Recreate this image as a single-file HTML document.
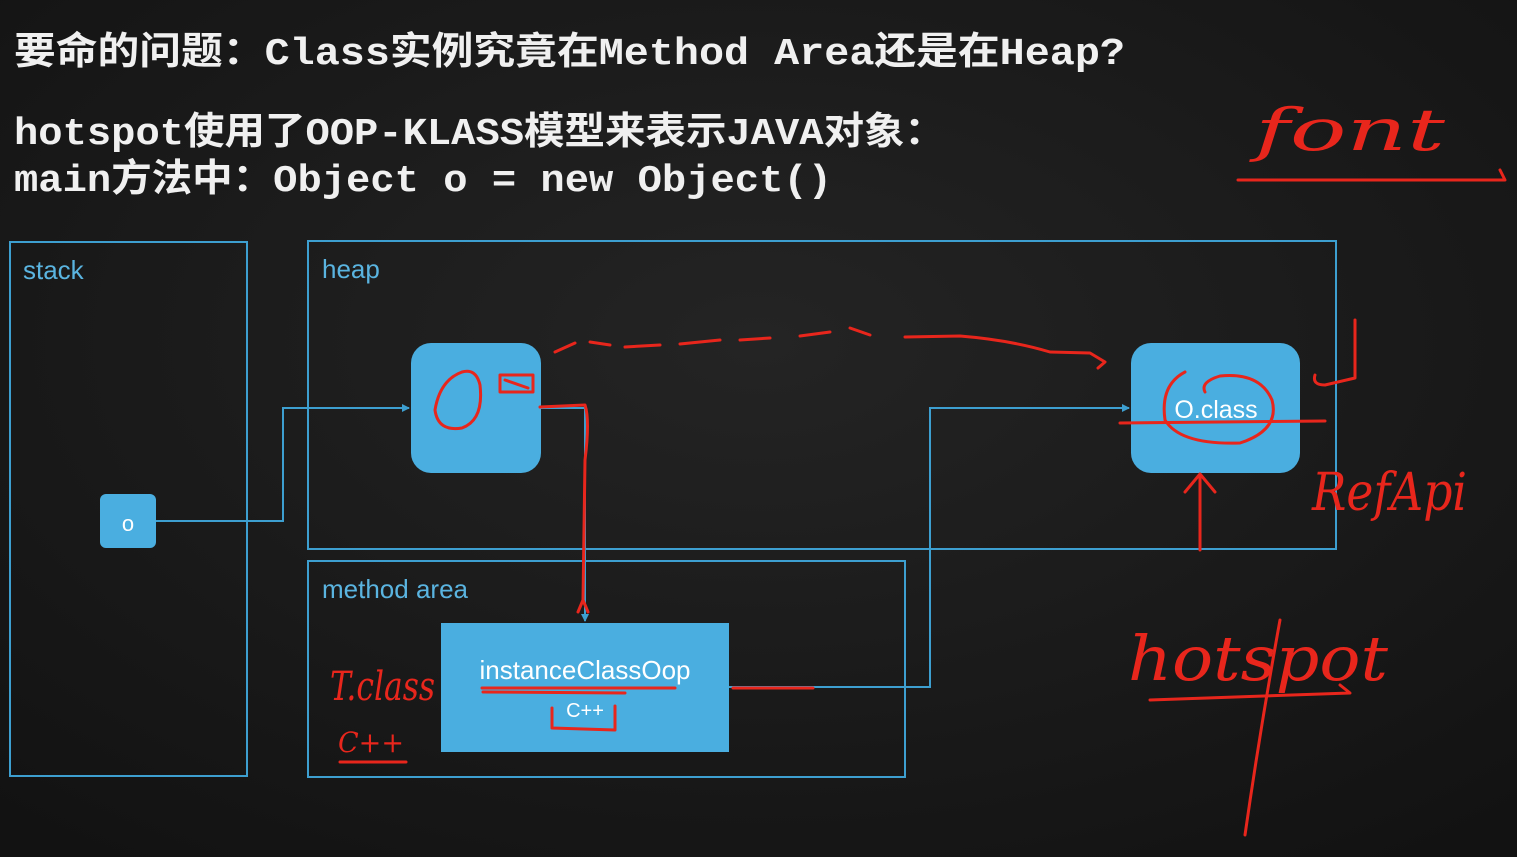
<!DOCTYPE html>
<html><head><meta charset="utf-8"><style>
html,body{margin:0;padding:0;background:#1b1b1b;}
svg{display:block}
</style></head><body>
<svg width="1517" height="857" viewBox="0 0 1517 857" xmlns="http://www.w3.org/2000/svg">
<defs>
<radialGradient id="bg" cx="50%" cy="40%" r="75%"><stop offset="0" stop-color="#242424"/><stop offset="1" stop-color="#121212"/></radialGradient>
<marker id="ar" markerWidth="8" markerHeight="8" refX="7" refY="4" orient="auto" markerUnits="userSpaceOnUse"><path d="M0,0 L8,4 L0,8 z" fill="#3d9fd0"/></marker>
</defs>
<rect width="1517" height="857" fill="url(#bg)"/>
<g font-family="'Liberation Mono','Noto Sans CJK SC',monospace" fill="#f0f0f0" font-size="38" font-weight="bold">
<text x="14" y="64" textLength="1111" lengthAdjust="spacingAndGlyphs">要命的问题：Class实例究竟在Method Area还是在Heap?</text>
<text x="14" y="144" textLength="931" lengthAdjust="spacingAndGlyphs">hotspot使用了OOP-KLASS模型来表示JAVA对象：</text>
<text x="14" y="191" textLength="818" lengthAdjust="spacingAndGlyphs">main方法中：Object o = new Object()</text>
</g>
<g fill="none" stroke="#3d9fd0" stroke-width="2">
<rect x="10" y="242" width="237" height="534"/>
<rect x="308" y="241" width="1028" height="308"/>
<rect x="308" y="561" width="597" height="216"/>
<polyline points="156,521 283,521 283,408 409,408" marker-end="url(#ar)"/>
<polyline points="541,408 585,408 585,621" marker-end="url(#ar)"/>
<polyline points="729,687 930,687 930,408 1129,408" marker-end="url(#ar)"/>
</g>
<g fill="#4aaee0">
<rect x="411" y="343" width="130" height="130" rx="20"/>
<rect x="100" y="494" width="56" height="54" rx="6"/>
<rect x="1131" y="343" width="169" height="130" rx="20"/>
<rect x="441" y="623" width="288" height="129"/>
</g>
<g font-family="'Liberation Sans',sans-serif" font-size="26" fill="#5ab4e0">
<text x="23" y="279">stack</text>
<text x="322" y="278">heap</text>
<text x="322" y="598">method area</text>
</g>
<g font-family="'Liberation Sans',sans-serif" fill="#ffffff" text-anchor="middle">
<text x="128" y="531" font-size="22">o</text>
<text x="1216" y="418" font-size="25">O.class</text>
<text x="585" y="679" font-size="26">instanceClassOop</text>
<text x="585" y="717" font-size="20">C++</text>
</g>
<g fill="none" stroke="#e8261c" stroke-width="3" stroke-linecap="round" stroke-linejoin="round">
<path d="M555,352 L575,343 M590,342 L610,345 M625,347 L660,345 M680,344 L720,340 M740,340 L770,338 M800,336 L830,332 M850,328 L870,335 M905,337 L960,336 Q1010,340 1050,352 L1090,353 L1105,362 L1098,368"/>
<path d="M540,407 L585,405 Q590,420 585,460 L583,600 L578,612 M583,600 L588,612"/>
<path d="M462,372 Q440,380 435,410 Q438,432 462,428 Q484,420 480,385 Q476,368 462,372"/>
<path d="M500,375 L533,375 L533,392 L500,392 Z M505,380 L528,388"/>
<path d="M482,688 L675,688 M483,692 L625,693"/>
<path d="M552,708 L552,728 L615,730 L615,706"/>
<path d="M733,688 L813,688"/>
<path d="M1120,423 L1325,421"/>
<path d="M1185,372 Q1160,385 1165,420 Q1180,445 1240,443 Q1280,430 1272,400 Q1260,372 1220,376 Q1200,382 1205,392"/>
<path d="M1200,550 L1200,478 M1185,492 L1200,474 L1215,492"/>
<path d="M1315,375 Q1312,385 1325,385 L1355,378 L1355,320"/>
<path d="M1238,180 L1505,180 L1500,170"/>
<path d="M1150,700 L1350,693 L1340,685 M1280,620 Q1260,730 1245,835"/>
<path d="M340,762 L406,762"/>
</g>
<g font-family="'DejaVu Serif','Liberation Serif',serif" font-style="italic" fill="#e8261c">
<text x="1255" y="150" font-size="58" textLength="190" lengthAdjust="spacingAndGlyphs">font</text>
<text x="1312" y="510" font-size="52" textLength="155" lengthAdjust="spacingAndGlyphs">RefApi</text>
<text x="1128" y="680" font-size="62" textLength="260" lengthAdjust="spacingAndGlyphs">hotspot</text>
<text x="330" y="700" font-size="40" textLength="105" lengthAdjust="spacingAndGlyphs">T.class</text>
<text x="338" y="752" font-size="28" textLength="66" lengthAdjust="spacingAndGlyphs">C++</text>
</g>
</svg>
</body></html>
